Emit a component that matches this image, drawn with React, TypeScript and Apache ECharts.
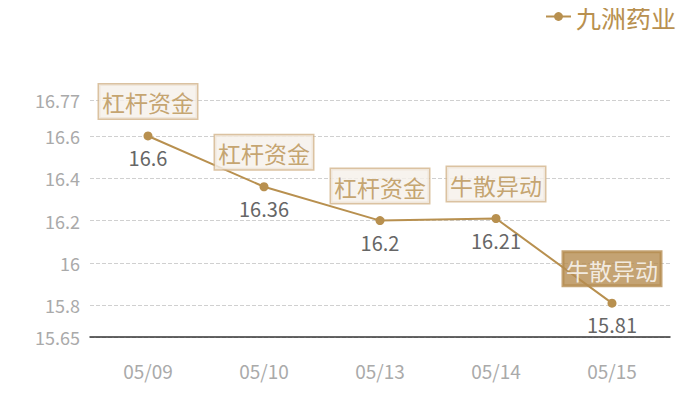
import React, { useEffect, useRef } from "react";
import * as echarts from "echarts";

const categories = ["05/09", "05/10", "05/13", "05/14", "05/15"];
const prices = [16.6, 16.36, 16.2, 16.21, 15.81];
const tags = ["杠杆资金", "杠杆资金", "杠杆资金", "牛散异动", "牛散异动"];
const highlighted = [false, false, false, false, true];
const seriesName = "九洲药业";
const yMin = 15.65;
const yMax = 16.77;

const GOLD = "#b8904f";
const FONT = "'Noto Sans CJK SC', 'Microsoft YaHei', sans-serif";

export default function App() {
  const ref = useRef<HTMLDivElement>(null);
  useEffect(() => {
    if (!ref.current) return;
    const chart = echarts.init(ref.current, undefined, { renderer: "svg" });
    const tagData = prices.map((v, i) => ({
      value: v,
      label: highlighted[i]
        ? {
            color: "#ffffff",
            backgroundColor: "#b58c50",
            borderColor: "#b58c50",
          }
        : {},
    }));
    chart.setOption({
      animation: false,
      textStyle: { fontFamily: FONT },
      legend: {
        data: [seriesName],
        right: 24,
        top: 4,
        padding: 0,
        itemWidth: 25,
        itemHeight: 11,
        itemGap: 6,
        textStyle: { color: GOLD, fontSize: 25, fontFamily: FONT },
      },
      grid: { left: 90, right: 30, top: 100, bottom: 63 },
      xAxis: {
        type: "category",
        data: categories,
        axisLine: { lineStyle: { color: "#333333", width: 1.5 } },
        axisTick: { show: false },
        axisLabel: { color: "#aaaaaa", fontSize: 19, margin: 24, fontFamily: FONT },
      },
      yAxis: {
        type: "value",
        min: yMin,
        max: yMax,
        axisLine: { show: false },
        axisTick: { show: false },
        axisLabel: {
          color: "#aaaaaa",
          fontSize: 18,
          margin: 10,
          fontFamily: FONT,
          showMinLabel: true,
          showMaxLabel: true,
        },
        splitLine: { lineStyle: { color: "#d0d0d0", type: "dashed", width: 1 } },
      },
      series: [
        {
          name: seriesName,
          type: "line",
          data: prices,
          color: GOLD,
          symbol: "circle",
          symbolSize: 9,
          lineStyle: { color: GOLD, width: 2 },
          itemStyle: { color: GOLD },
          label: {
            show: true,
            position: "bottom",
            distance: 7,
            color: "#666666",
            fontSize: 20,
            fontFamily: FONT,
          },
          z: 3,
        },
        {
          name: "tags",
          type: "scatter",
          data: tagData,
          symbolSize: 1,
          itemStyle: { color: "rgba(0,0,0,0)" },
          silent: true,
          label: {
            show: true,
            position: "top",
            distance: 17,
            formatter: (p: any) => tags[p.dataIndex],
            color: GOLD,
            fontSize: 23,
            lineHeight: 28,
            fontFamily: FONT,
            backgroundColor: "#f5f0ea",
            borderColor: "#d2b38a",
            borderWidth: 1.5,
            padding: [4, 3, 2, 3],
          },
          z: 5,
        },
      ],
    });
    return () => chart.dispose();
  }, []);
  return (
    <div ref={ref} style={{ width: 700, height: 400, margin: -8 }} />
  );
}
